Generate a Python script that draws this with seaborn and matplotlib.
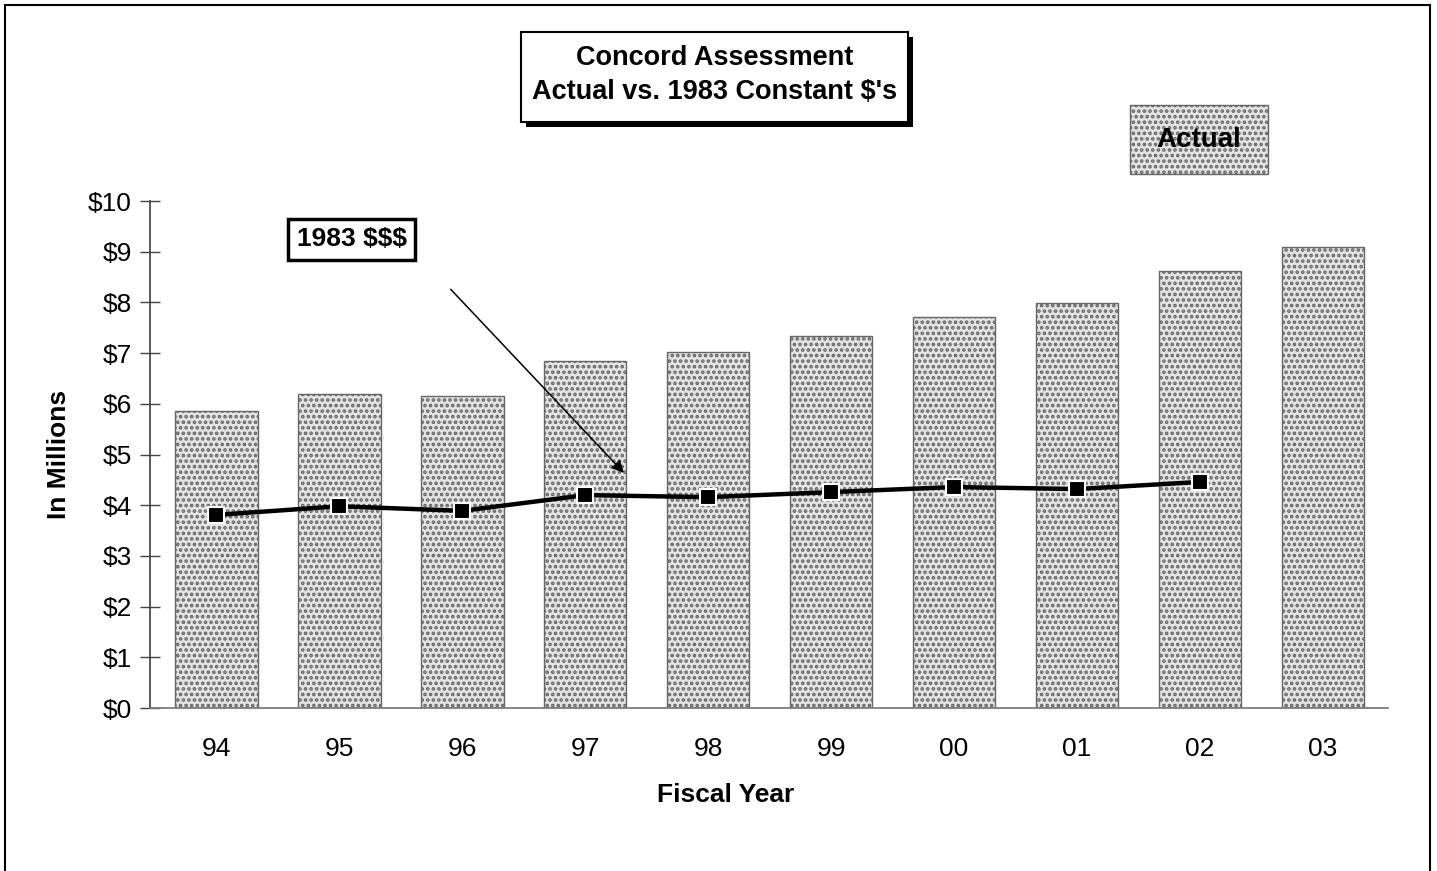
import matplotlib
matplotlib.use("Agg")
import matplotlib.pyplot as plt
import matplotlib.patches as mpatches
import seaborn as sns
import pandas as pd

years = ["94", "95", "96", "97", "98", "99", "00", "01", "02", "03"]
actual = [5.86, 6.19, 6.15, 6.84, 7.02, 7.34, 7.71, 7.99, 8.62, 9.09]
constant_1983 = [3.81, 3.98, 3.89, 4.20, 4.16, 4.26, 4.36, 4.32, 4.46]
y_ticks = [0, 1, 2, 3, 4, 5, 6, 7, 8, 9, 10]
y_labels = ["$" + str(v) for v in y_ticks]

sns.set_theme(style="white")
plt.rcParams["font.family"] = ["Liberation Sans", "DejaVu Sans"]
plt.rcParams["text.color"] = "black"
plt.rcParams["axes.labelcolor"] = "black"
plt.rcParams["xtick.color"] = "black"
plt.rcParams["ytick.color"] = "black"
plt.rcParams["hatch.linewidth"] = 1.8
plt.rcParams["hatch.color"] = "#4a4a4a"

bar_df = pd.DataFrame({"year": years, "value": actual})
line_df = pd.DataFrame({"year": years[:len(constant_1983)], "value": constant_1983})

fig = plt.figure(figsize=(14.37, 8.71), dpi=100)
ax = fig.add_axes([0.1044, 0.1871, 0.8616, 0.582])

sns.barplot(data=bar_df, x="year", y="value", order=years, color="#e4e4e4",
            width=0.67, edgecolor="#666666", linewidth=1, ax=ax)
for p in ax.patches:
    p.set_hatch("...")

sns.pointplot(data=line_df, x="year", y="value", order=years, color="black",
              markers="s", markersize=11, linewidth=3.2, ax=ax,
              markeredgecolor="white", markeredgewidth=1.5)

ax.set_ylim(0, 10)
ax.set_xlim(-0.54, 9.53)
ax.set_yticks(y_ticks)
ax.set_yticklabels(y_labels, fontsize=19)
ax.tick_params(axis="x", length=0, labelsize=19, pad=21)
ax.tick_params(axis="y", direction="inout", length=14, width=1, color="#444444",
               left=True, pad=6)
for s in ["top", "right"]:
    ax.spines[s].set_visible(False)
ax.spines["left"].set_color("#444444")
ax.spines["bottom"].set_color("#777777")
ax.set_xlabel("Fiscal Year", fontsize=19, fontweight="bold")
ax.xaxis.set_label_coords(0.465, -0.148)
ax.set_ylabel("In Millions", fontsize=19, fontweight="bold", labelpad=12)

# label box and arrow for the 1983 series
ax.text(1.10, 9.25, "1983 $$$", ha="center", va="center", fontsize=19, fontweight="bold",
        bbox=dict(boxstyle="square,pad=0.32", fc="white", ec="black", lw=2.5))
ax.annotate("", xy=(3.33, 4.6), xytext=(1.89, 8.3),
            arrowprops=dict(arrowstyle="-|>", color="black", lw=1.1, mutation_scale=18))

# title box with shadow
W, H = 1437, 871
def fig_rect(x0, y0, x1, y1, **kw):
    r = mpatches.Rectangle((x0 / W, 1 - y1 / H), (x1 - x0) / W, (y1 - y0) / H,
                           transform=fig.transFigure, figure=fig, **kw)
    fig.patches.append(r)

fig_rect(526, 37, 913, 127, fc="black", ec="black", lw=0)
fig_rect(521, 32, 908, 122, fc="white", ec="black", lw=1.5)
fig.text(715 / W, 1 - 75 / H, "Concord Assessment\nActual vs. 1983 Constant $'s",
         ha="center", va="center", fontsize=19.5, fontweight="bold", linespacing=1.36)

# legend box for Actual
fig_rect(1130, 105, 1268, 174, fc="#e4e4e4", ec="#666666", lw=1, hatch="...")
fig.text(1199 / W, 1 - 140 / H, "Actual", ha="center", va="center",
         fontsize=20, fontweight="bold")

# outer frame
fig_rect(5, 5, 1430, 875, fc="none", ec="black", lw=1.5)

fig.savefig("out.png", dpi=100)
